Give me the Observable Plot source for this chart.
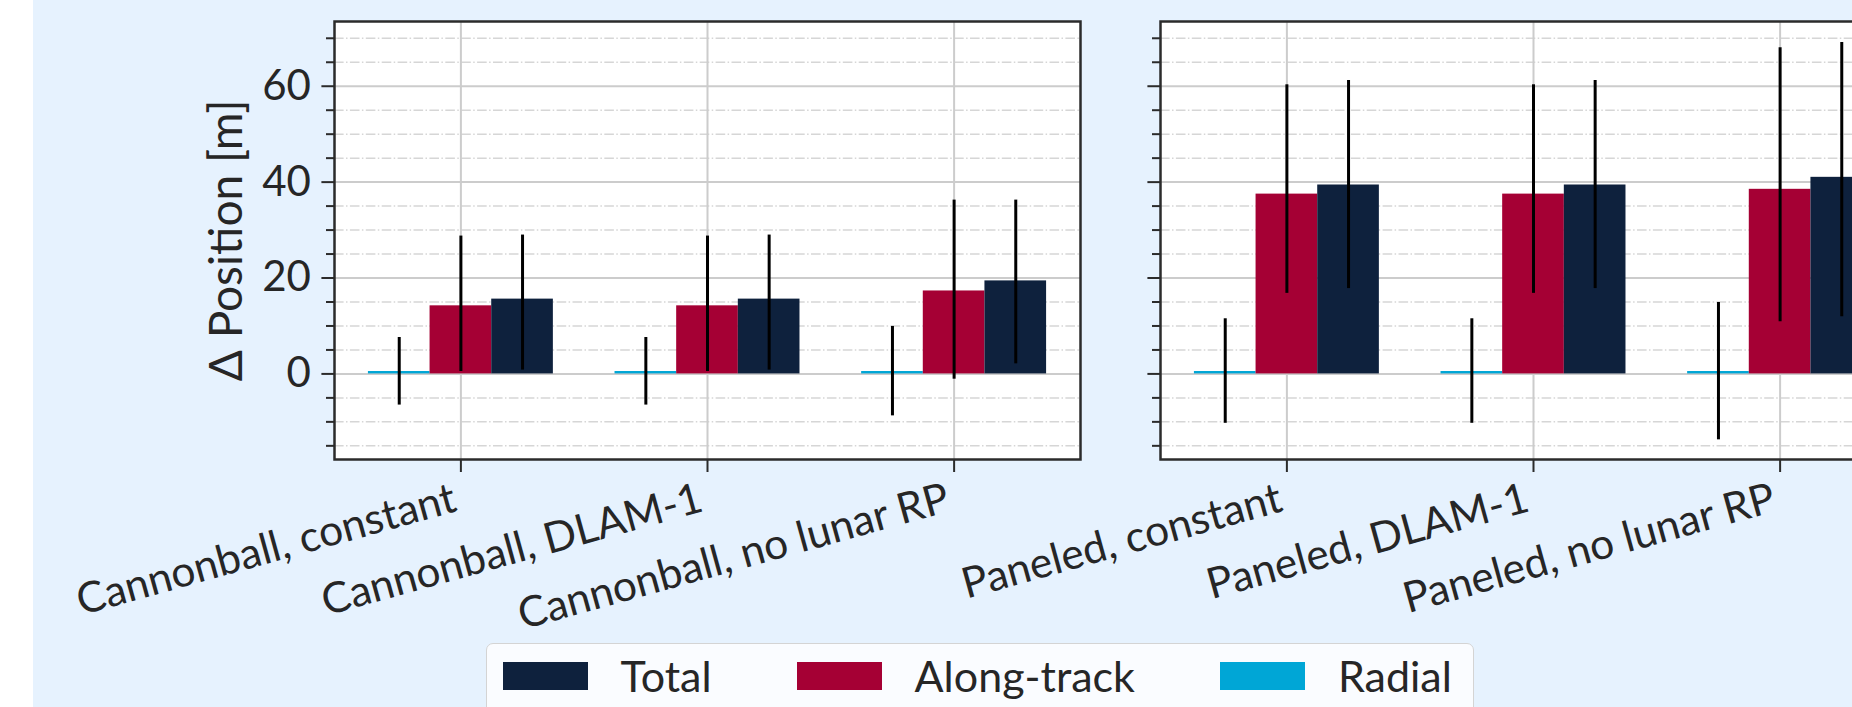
<!DOCTYPE html>
<html>
<head>
<meta charset="utf-8">
<script src="https://cdn.jsdelivr.net/npm/d3@7"></script>
<script src="https://cdn.jsdelivr.net/npm/@observablehq/plot@0.6"></script>
<style>
  html, body { margin: 0; padding: 0; width: 1852px; height: 707px; overflow: hidden; background: #ffffff; font-family: Lato, sans-serif; }
  #bg { position: absolute; left: 33px; top: 0; width: 1900px; height: 760px; background: #e6f2fe; }
  #p1, #p2 { position: absolute; top: 0; }
  #p1 { left: 0; }
  #p2 { left: 1100px; }
  #legend { position: absolute; left: 485.5px; top: 642.5px; width: 988.5px; height: 90px; box-sizing: border-box;
    border: 1.5px solid #d4d4d4; border-radius: 7px; background: #fafcff; padding: 11px 0 0 16px;
    display: flex; align-items: flex-start; font-size: 43px; line-height: 42px; color: #262626; white-space: nowrap; }
  #legend .item { display: flex; align-items: center; margin-right: 85px; height: 42px; flex: 0 0 auto; white-space: nowrap; }
  #legend .sw { display: inline-block; width: 85px; height: 28px; margin-right: 33px; flex: 0 0 auto; }
</style>
</head>
<body>
<div id="bg"></div>
<div id="p1"></div>
<div id="p2"></div>
<div id="legend"></div>
<script>
// ---- data ----
const categoriesLeft  = ["Cannonball, constant", "Cannonball, DLAM-1", "Cannonball, no lunar RP"];
const categoriesRight = ["Paneled, constant", "Paneled, DLAM-1", "Paneled, no lunar RP"];
const seriesNames = ["Radial", "Along-track", "Total"];
const seriesColors = ["#00a6d6", "#a50034", "#0e213d"];
const legendOrder = ["Total", "Along-track", "Radial"];

// values for the 6 configurations (3 cannonball, then 3 paneled)
const radialMean = [0.5, 0.5, 0.5, 0.5, 0.5, 0.5];
const radialLo   = [-6.5, -6.5, -8.75, -10.3, -10.3, -13.75];
const radialHi   = [7.6, 7.6, 9.9, 11.5, 11.5, 14.9];
const alongMean  = [14.2, 14.2, 17.3, 37.5, 37.5, 38.5];
const alongLo    = [0.5, 0.5, -1.1, 16.8, 16.8, 10.9];
const alongHi    = [28.75, 28.75, 36.25, 60.3, 60.3, 68.0];
const totalMean  = [15.6, 15.6, 19.4, 39.4, 39.4, 41.0];
const totalLo    = [0.8, 0.8, 2.1, 17.8, 17.8, 11.9];
const totalHi    = [28.96, 28.96, 36.25, 61.2, 61.2, 69.1];

const majorTicks = [0, 20, 40, 60];
const yLabel = "Δ Position [m]";

// ---- build ----
const stats = {
  "Radial": [radialMean, radialLo, radialHi],
  "Along-track": [alongMean, alongLo, alongHi],
  "Total": [totalMean, totalLo, totalHi]
};
const minorTicks = d3.range(-15, 75, 5).filter(v => v % 20 !== 0);
const colorScale = {domain: seriesNames, range: seriesColors};
const barW = 0.25;

function panel(cats, offset, isLeft) {
  const rows = [];
  cats.forEach((c, i) => {
    seriesNames.forEach((s, k) => {
      const [m, lo, hi] = stats[s];
      const cx = i + (k - 1) * barW;
      rows.push({cat: c, series: s, cx, x1: cx - barW / 2, x2: cx + barW / 2,
                 mean: m[offset + i], lo: lo[offset + i], hi: hi[offset + i]});
    });
  });
  const ml = isLeft ? 334 : 60;
  const idx = d3.range(cats.length);
  const marks = [
    Plot.frame({fill: "white", stroke: "none"}),
    Plot.ruleY(minorTicks, {stroke: "#d6d6d6", strokeWidth: 1.5, strokeDasharray: "9.6,2.4,1.5,2.4"}),
    Plot.ruleY(majorTicks, {stroke: "#cccccc", strokeWidth: 2}),
    Plot.ruleX(idx, {stroke: "#cccccc", strokeWidth: 2}),
    Plot.rect(rows, {x1: "x1", x2: "x2", y1: 0, y2: "mean", fill: "series"}),
    Plot.ruleX(rows, {x: "cx", y1: "lo", y2: "hi", stroke: "black", strokeWidth: 3}),
    Plot.frame({stroke: "#2b2b2b", strokeWidth: 2.5, fill: "none"}),
    Plot.axisY(majorTicks, {tickSize: 12.6, tickPadding: 11, fontSize: 42, stroke: "#2b2b2b", strokeWidth: 2,
      tickFormat: isLeft ? (d => String(d)) : (() => ""), label: null}),
    Plot.axisY(minorTicks, {tickSize: 8, fontSize: 42, stroke: "#2b2b2b", strokeWidth: 2, tickFormat: () => "", label: null}),
    Plot.axisX(idx, {tickSize: 13, stroke: "#2b2b2b", strokeWidth: 2, tickFormat: () => "", label: null}),
    Plot.axisX(idx, {tickSize: 0, tickPadding: 38, tickRotate: -15.5, fontSize: 42.5, dx: -6,
      tickFormat: i => cats[i], label: null})
  ];
  if (isLeft) {
    marks.push(Plot.text([yLabel], {frameAnchor: "left", textAnchor: "middle", dx: -107, rotate: -90, fontSize: 46, fill: "#262626"}));
  }
  return Plot.plot({
    width: ml + 746 + 20,
    height: 640,
    marginLeft: ml, marginRight: 20, marginTop: 21, marginBottom: 181,
    style: {background: "transparent", overflow: "visible", maxWidth: "none", color: "#262626", fontFamily: "Lato, sans-serif"},
    x: {domain: [-0.5125, 2.5125]},
    y: {domain: [-17.85, 73.5]},
    color: colorScale,
    marks
  });
}

document.getElementById("p1").appendChild(panel(categoriesLeft, 0, true));
document.getElementById("p2").appendChild(panel(categoriesRight, 3, false));

const leg = document.getElementById("legend");
legendOrder.forEach(name => {
  const item = document.createElement("div");
  item.className = "item";
  const sw = document.createElement("span");
  sw.className = "sw";
  sw.style.background = seriesColors[seriesNames.indexOf(name)];
  const t = document.createElement("span");
  t.textContent = name;
  item.appendChild(sw); item.appendChild(t);
  leg.appendChild(item);
});
</script>
</body>
</html>
